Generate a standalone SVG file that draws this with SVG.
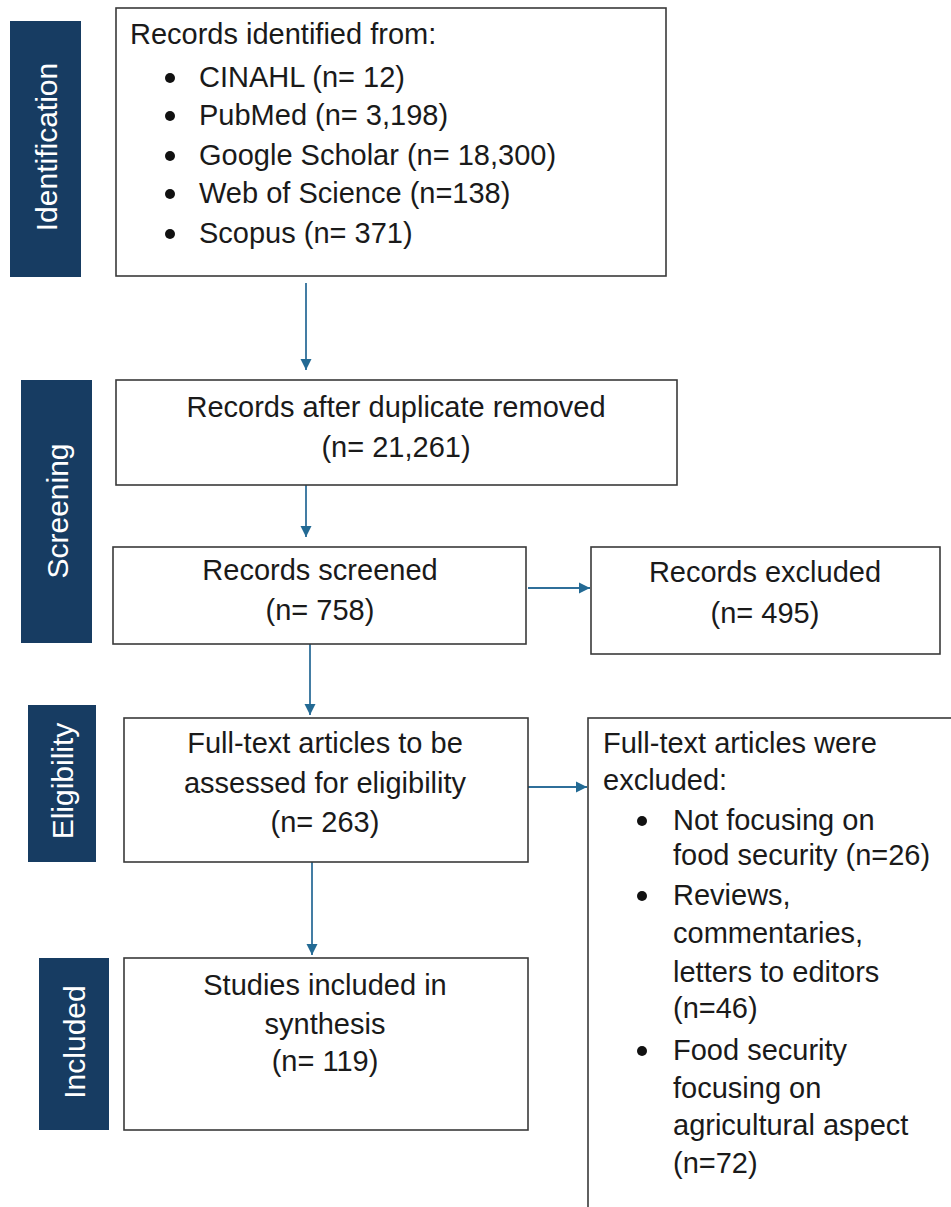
<svg xmlns="http://www.w3.org/2000/svg" width="951" height="1207" viewBox="0 0 951 1207">
  <style>
    .box { fill: #ffffff; stroke: #3a3a3a; stroke-width: 1.6; }
    .phase { fill: #173c62; }
    .phase-text { fill: #ffffff; font-family: "Liberation Sans", Arial, sans-serif; font-size: 30px; text-anchor: middle; }
    .t { fill: #1a1a1a; font-family: "Liberation Sans", Arial, sans-serif; font-size: 29px; }
    .c { text-anchor: middle; }
    .dot { fill: #111111; }
    .conn { stroke: #2f6f9a; stroke-width: 1.8; fill: none; marker-end: url(#arrow); }
  </style>
  <defs>
    <marker id="arrow" markerUnits="userSpaceOnUse" markerWidth="12" markerHeight="12" refX="11" refY="6" orient="auto">
      <path d="M0,0.5 L11,6 L0,11.5 z" fill="#236a94"/>
    </marker>
  </defs>

  <rect width="951" height="1207" fill="#ffffff"/>

  <!-- phase labels -->
  <g id="phase-identification">
    <rect class="phase" x="10" y="21" width="71" height="256"/>
    <text class="phase-text" transform="translate(45.5,147) rotate(-90)" y="11">Identification</text>
  </g>
  <g id="phase-screening">
    <rect class="phase" x="21" y="380" width="71" height="263"/>
    <text class="phase-text" transform="translate(56.5,511) rotate(-90)" y="11">Screening</text>
  </g>
  <g id="phase-eligibility">
    <rect class="phase" x="28" y="705" width="68" height="157"/>
    <text class="phase-text" transform="translate(62,781) rotate(-90)" y="11">Eligibility</text>
  </g>
  <g id="phase-included">
    <rect class="phase" x="39" y="958" width="70" height="172"/>
    <text class="phase-text" transform="translate(74,1042) rotate(-90)" y="11">Included</text>
  </g>

  <!-- connectors -->
  <g id="connectors">
    <line class="conn" x1="306" y1="283" x2="306" y2="370"/>
    <line class="conn" x1="306" y1="485" x2="306" y2="537"/>
    <line class="conn" x1="528" y1="588" x2="590" y2="588"/>
    <line class="conn" x1="310" y1="644" x2="310" y2="715"/>
    <line class="conn" x1="312" y1="862" x2="312" y2="955"/>
    <line class="conn" x1="528" y1="787" x2="587" y2="787"/>
  </g>

  <!-- records identified -->
  <g id="node-identified">
    <rect class="box" x="116" y="8" width="550" height="268"/>
    <text class="t" x="130" y="44">Records identified from:</text>
    <circle class="dot" cx="170" cy="78" r="5"/>
    <text class="t" x="199" y="87">CINAHL (n= 12)</text>
    <circle class="dot" cx="170" cy="116" r="5"/>
    <text class="t" x="199" y="125">PubMed (n= 3,198)</text>
    <circle class="dot" cx="170" cy="156" r="5"/>
    <text class="t" x="199" y="165">Google Scholar (n= 18,300)</text>
    <circle class="dot" cx="170" cy="194" r="5"/>
    <text class="t" x="199" y="203">Web of Science (n=138)</text>
    <circle class="dot" cx="170" cy="234" r="5"/>
    <text class="t" x="199" y="243">Scopus (n= 371)</text>
  </g>

  <!-- after duplicates removed -->
  <g id="node-deduplicated">
    <rect class="box" x="116" y="380" width="561" height="105"/>
    <text class="t c" x="396" y="417">Records after duplicate removed</text>
    <text class="t c" x="396" y="457">(n= 21,261)</text>
  </g>

  <!-- screened -->
  <g id="node-screened">
    <rect class="box" x="113" y="547" width="413" height="97"/>
    <text class="t c" x="320" y="580">Records screened</text>
    <text class="t c" x="320" y="620">(n= 758)</text>
  </g>

  <!-- excluded after screening -->
  <g id="node-excluded">
    <rect class="box" x="591" y="547" width="349" height="107"/>
    <text class="t c" x="765" y="582">Records excluded</text>
    <text class="t c" x="765" y="623">(n= 495)</text>
  </g>

  <!-- full-text assessment -->
  <g id="node-eligibility">
    <rect class="box" x="124" y="718" width="404" height="144"/>
    <text class="t c" x="325" y="753">Full-text articles to be</text>
    <text class="t c" x="325" y="793">assessed for eligibility</text>
    <text class="t c" x="325" y="832">(n= 263)</text>
  </g>

  <!-- included studies -->
  <g id="node-included">
    <rect class="box" x="124" y="958" width="404" height="172"/>
    <text class="t c" x="325" y="995">Studies included in</text>
    <text class="t c" x="325" y="1034">synthesis</text>
    <text class="t c" x="325" y="1071">(n= 119)</text>
  </g>

  <!-- full-text exclusions -->
  <g id="node-fulltext-excluded">
    <rect class="box" x="588" y="718" width="380" height="520"/>
    <text class="t" x="603" y="753">Full-text articles were</text>
    <text class="t" x="603" y="790">excluded:</text>
    <circle class="dot" cx="642" cy="821" r="5"/>
    <text class="t" x="673" y="830">Not focusing on</text>
    <text class="t" x="673" y="865">food security (n=26)</text>
    <circle class="dot" cx="642" cy="896" r="5"/>
    <text class="t" x="673" y="905">Reviews,</text>
    <text class="t" x="673" y="943">commentaries,</text>
    <text class="t" x="673" y="982">letters to editors</text>
    <text class="t" x="673" y="1018">(n=46)</text>
    <circle class="dot" cx="642" cy="1051" r="5"/>
    <text class="t" x="673" y="1060">Food security</text>
    <text class="t" x="673" y="1098">focusing on</text>
    <text class="t" x="673" y="1135">agricultural aspect</text>
    <text class="t" x="673" y="1173">(n=72)</text>
  </g>
</svg>
